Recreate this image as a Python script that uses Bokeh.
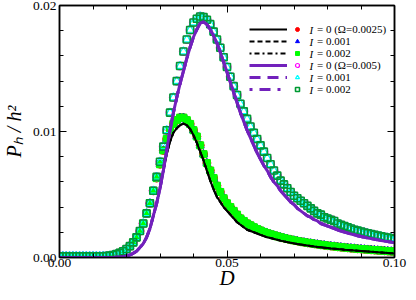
from bokeh.plotting import figure
from bokeh.models import (Range1d, LinearAxis, FixedTicker, NumeralTickFormatter,
                          CustomJSTickFormatter, Legend, LegendItem, Label)
from bokeh.embed import file_html
from bokeh.resources import INLINE

# ---------------- data ----------------
# D grid: 0.000 ... 0.100 in steps of 0.001
D = [round(i * 0.001, 3) for i in range(101)]

# theory lines, Omega = 0.0025 (I = 0, 0.001, 0.002 coincide)
line_w0025 = [
    0, 0, 0, 0, 0, 0, 0, 0, 0, 0,
    0, 0, 0, 0, 0, 0, 0, 0.00002, 0.00004, 0.00007,
    0.00012, 0.0002, 0.00033, 0.0005, 0.0008, 0.0011, 0.0016, 0.0023, 0.0033, 0.0043,
    0.0055, 0.0069, 0.0082, 0.0092, 0.0099, 0.01025, 0.0105, 0.01063, 0.0105, 0.0102,
    0.0097, 0.0091, 0.0084, 0.0077, 0.0069, 0.0061, 0.0054, 0.0048, 0.0044, 0.0040,
    0.0037, 0.0034, 0.0031, 0.0028, 0.0026, 0.0024, 0.0022, 0.0021, 0.0020, 0.0019,
    0.0018, 0.0017, 0.0016, 0.00155, 0.00148, 0.00141, 0.00134, 0.00128, 0.00122, 0.00117,
    0.00112, 0.00107, 0.00103, 0.00099, 0.00095, 0.00091, 0.00088, 0.00084, 0.00081, 0.00078,
    0.00075, 0.00072, 0.00070, 0.00067, 0.00065, 0.00062, 0.00060, 0.00058, 0.00056, 0.00054,
    0.00052, 0.00050, 0.00048, 0.00046, 0.00044, 0.00042, 0.00040, 0.00038, 0.00036, 0.00034,
    0.00032,
]

# simulation points, Omega = 0.0025 (I = 0, 0.001, 0.002 coincide)
sim_w0025 = [
    0.0001, 0.0001, 0.0001, 0.0001, 0.0001, 0.0001, 0.0001, 0.0001, 0.0001, 0.0001,
    0.0001, 0.0001, 0.0001, 0.0001, 0.00012, 0.00015, 0.0002, 0.00027, 0.00037, 0.0005,
    0.00067, 0.0009, 0.0012, 0.0016, 0.0021, 0.0027, 0.0035, 0.0043, 0.0053, 0.0063,
    0.0074, 0.0085, 0.0094, 0.0101, 0.0106, 0.0109, 0.0111, 0.0111, 0.0109, 0.0106,
    0.0101, 0.0096, 0.0089, 0.0082, 0.0075, 0.0069, 0.0063, 0.0057, 0.0052, 0.0047,
    0.0043, 0.0040, 0.0037, 0.0034, 0.0031, 0.0029, 0.0027, 0.00255, 0.0024, 0.00226,
    0.00214, 0.00203, 0.00193, 0.00184, 0.00176, 0.00168, 0.00161, 0.00154, 0.00148, 0.00142,
    0.00136, 0.00131, 0.00126, 0.00121, 0.00117, 0.00113, 0.00109, 0.00105, 0.00101, 0.00098,
    0.00094, 0.00091, 0.00088, 0.00085, 0.00082, 0.00079, 0.00077, 0.00074, 0.00072, 0.00069,
    0.00067, 0.00065, 0.00063, 0.00061, 0.00059, 0.00057, 0.00055, 0.00053, 0.00051, 0.00049,
    0.00047,
]

# theory lines, Omega = 0.005
line_w005 = [
    0, 0, 0, 0, 0, 0, 0, 0, 0, 0,
    0, 0, 0, 0, 0, 0, 0, 0.00002, 0.00004, 0.00007,
    0.00012, 0.0002, 0.00033, 0.0005, 0.0008, 0.0011, 0.0016, 0.0023, 0.0033, 0.0043,
    0.0055, 0.0069, 0.0085, 0.0101, 0.0115, 0.0127, 0.0138, 0.0148, 0.0158, 0.0167,
    0.0175, 0.0181, 0.0186, 0.0187, 0.0185, 0.0181, 0.0176, 0.0170, 0.0163, 0.0155,
    0.0147, 0.0139, 0.0131, 0.0123, 0.0115, 0.0108, 0.0101, 0.0095, 0.0089, 0.0083,
    0.0078, 0.0073, 0.0069, 0.0064, 0.0060, 0.0057, 0.0053, 0.0050, 0.0047, 0.0044,
    0.0042, 0.0039, 0.0037, 0.0035, 0.0033, 0.0032, 0.0030, 0.0029, 0.0027, 0.0026,
    0.0025, 0.0024, 0.0023, 0.0022, 0.0021, 0.00202, 0.00194, 0.00187, 0.0018, 0.00173,
    0.00167, 0.00161, 0.00155, 0.0015, 0.00145, 0.0014, 0.00135, 0.0013, 0.00126, 0.00122,
    0.00118,
]

# simulation points, Omega = 0.005
sim_w005 = [
    0.0001, 0.0001, 0.0001, 0.0001, 0.0001, 0.0001, 0.0001, 0.0001, 0.0001, 0.0001,
    0.0001, 0.0001, 0.0001, 0.0001, 0.00012, 0.00015, 0.0002, 0.00027, 0.00037, 0.0005,
    0.00067, 0.0009, 0.0012, 0.0016, 0.0021, 0.0027, 0.0035, 0.0043, 0.0053, 0.0064,
    0.0076, 0.0088, 0.0101, 0.0115, 0.0127, 0.0140, 0.0152, 0.01635, 0.0173, 0.01806,
    0.01865, 0.01895, 0.01913, 0.01908, 0.01887, 0.01852, 0.01793, 0.0173, 0.01665, 0.01589,
    0.01512, 0.01435, 0.0136, 0.0129, 0.0122, 0.0116, 0.0110, 0.0104, 0.0099, 0.0094,
    0.0089, 0.0084, 0.0079, 0.0074, 0.0069, 0.0065, 0.0061, 0.0058, 0.0055, 0.0052,
    0.0049, 0.0047, 0.0045, 0.0043, 0.0041, 0.0039, 0.0037, 0.0035, 0.0034, 0.0032,
    0.0031, 0.0030, 0.0029, 0.0027, 0.0026, 0.0025, 0.0024, 0.0023, 0.0022, 0.00213,
    0.00206, 0.00199, 0.00192, 0.00186, 0.0018, 0.00174, 0.00168, 0.00163, 0.00158, 0.00153,
    0.00148,
]

legend_rest = ["= 0 (\u03a9=0.0025)", "= 0.001", "= 0.002",
               "= 0 (\u03a9=0.005)", "= 0.001", "= 0.002"]
x_ticks = [0.0, 0.05, 0.1]
x_minor = [0.01, 0.02, 0.03, 0.04, 0.06, 0.07, 0.08, 0.09]
y_ticks = [0.0, 0.01, 0.02]
y_minor = [0.002, 0.004, 0.006, 0.008, 0.012, 0.014, 0.016, 0.018]

SERIF = "Liberation Serif"
PURPLE = "#7221bc"
DKGREEN = "#009a33"

# ---------------- figure ----------------
p = figure(width=416, height=300, x_range=Range1d(0, 0.1), y_range=Range1d(0, 0.02),
           output_backend="svg", toolbar_location=None,
           min_border_left=67, min_border_right=14, min_border_top=13, min_border_bottom=33)
# use the full window (cancel the page's 8px body margin)
p.styles = {"margin": "-8px -8px -8px -8px"}
p.xgrid.visible = False
p.ygrid.visible = False
p.outline_line_color = "black"
p.outline_line_width = 1.5
p.background_fill_color = "white"
p.border_fill_color = "white"

xa = p.below[0]
ya = p.left[0]

xt = FixedTicker(ticks=x_ticks, minor_ticks=x_minor)
yt = FixedTicker(ticks=y_ticks, minor_ticks=y_minor)
xa.ticker = xt
ya.ticker = yt
xa.formatter = NumeralTickFormatter(format="0.00")
ya.formatter = NumeralTickFormatter(format="0.00")

top = LinearAxis(ticker=xt, formatter=CustomJSTickFormatter(code="return ''"))
right = LinearAxis(ticker=yt, formatter=CustomJSTickFormatter(code="return ''"))
p.add_layout(top, "above")
p.add_layout(right, "right")

for ax in [xa, ya, top, right]:
    ax.axis_line_width = 1.5
    ax.axis_line_color = "black"
    ax.major_tick_in = 7
    ax.major_tick_out = 0
    ax.minor_tick_in = 4
    ax.minor_tick_out = 0
    ax.major_tick_line_color = "black"
    ax.minor_tick_line_color = "black"
    ax.major_label_text_font = SERIF
    ax.major_label_text_font_size = "13.5px"
    ax.major_label_text_color = "black"
    ax.major_label_standoff = 3
for ax in [top, right]:
    ax.major_label_text_font_size = "0px"
    ax.major_label_standoff = 0

# axis titles
xa.axis_label = "D"
xa.axis_label_text_font = SERIF
xa.axis_label_text_font_style = "italic"
xa.axis_label_text_font_size = "21px"
xa.axis_label_text_color = "black"
xa.major_label_standoff = 1
xa.axis_label_standoff = -4

ya.axis_label = "P\u2095 / h\u00b2"
ya.axis_label_text_font = SERIF
ya.axis_label_text_font_style = "italic"
ya.axis_label_text_font_size = "20px"
ya.axis_label_text_color = "black"
ya.axis_label_standoff = 5

# ---------------- markers ----------------
m1 = p.scatter(D, sim_w0025, marker="circle", size=8, fill_color="red", line_color="red")
m2 = p.scatter(D, sim_w0025, marker="triangle", size=8, fill_color="blue", line_color="blue")
m3 = p.scatter(D, sim_w0025, marker="square", size=7, fill_color="#00ff00", line_color="#00ff00")
m4 = p.scatter(D, sim_w005, marker="circle", size=8, fill_color=None, line_color="magenta", line_width=1.2)
m5 = p.scatter(D, sim_w005, marker="triangle", size=8, fill_color=None, line_color="cyan", line_width=1.2)
m6 = p.scatter(D, sim_w005, marker="square", size=7, fill_color=None, line_color=DKGREEN, line_width=1.6)

# ---------------- lines ----------------
l1 = p.line(D, line_w0025, line_color="black", line_width=2)
l2 = p.line(D, line_w0025, line_color="black", line_width=2, line_dash="5 3")
l3 = p.line(D, line_w0025, line_color="black", line_width=2, line_dash="2 3 5 3")
l4 = p.line(D, line_w005, line_color=PURPLE, line_width=3)
l5 = p.line(D, line_w005, line_color=PURPLE, line_width=3, line_dash="11 7")
l6 = p.line(D, line_w005, line_color=PURPLE, line_width=3, line_dash="3 7 11 7")

# ---------------- legends ----------------
ROW = 12
leg_bottom = 162
FS = "11px"
common = dict(border_line_color=None, background_fill_alpha=0, padding=0, margin=0,
              spacing=0, glyph_height=ROW, label_height=ROW,
              label_text_font=SERIF, label_text_font_size=FS, label_text_color="black")
leg_lines = Legend(items=[LegendItem(label=" ", renderers=[r]) for r in [l1, l2, l3, l4, l5, l6]],
                   location=(190, leg_bottom), glyph_width=38, label_standoff=0,
                   label_width=0, **common)
leg_marks = Legend(items=[LegendItem(label=t, renderers=[r])
                          for t, r in zip(legend_rest, [m1, m2, m3, m4, m5, m6])],
                   location=(233, leg_bottom), glyph_width=10, label_standoff=15,
                   label_width=0, **common)
p.add_layout(leg_lines)
p.add_layout(leg_marks)

n = 6
for k in range(n):
    yc = leg_bottom + n * ROW - ROW / 2 - ROW * k
    p.add_layout(Label(x=250, y=yc, x_units="screen", y_units="screen", text="I",
                       text_font=SERIF, text_font_style="italic", text_font_size=FS,
                       text_baseline="middle", text_align="left", text_color="black"))

open("out.html", "w").write(file_html(p, INLINE))
